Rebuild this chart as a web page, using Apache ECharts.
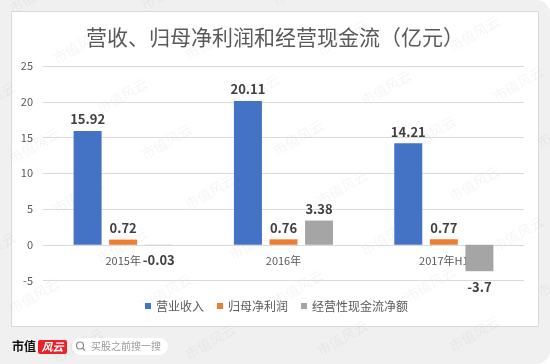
<!DOCTYPE html>
<html><head><meta charset="utf-8">
<script src="https://cdn.jsdelivr.net/npm/echarts@6/dist/echarts.min.js"></script>
<style>html,body{margin:0;padding:0;background:#fff}#c{width:550px;height:364px}</style>
</head><body><div id="c"></div>
<script>
const titleText = '营收、归母净利润和经营现金流（亿元）';
const categories = ['2015年', '2016年', '2017年H1'];
const seriesNames = ['营业收入', '归母净利润', '经营性现金流净额'];
const revenue = [15.92, 20.11, 14.21];
const netProfit = [0.72, 0.76, 0.77];
const operatingCashFlow = [-0.03, 3.38, -3.7];
const colors = ['#4472C4', '#ED7D31', '#A5A5A5'];
const yMin = -5, yMax = 25, yStep = 5;

const CJK = "'Noto Sans CJK SC', 'Noto Sans', sans-serif";
const gridTop = 66, gridBottom = 83.5, chartH = 364;
const gridH = chartH - gridTop - gridBottom;
const zeroOffset = -(gridH * (0 - yMin) / (yMax - yMin));

function toData(arr) {
  return arr.map(v => ({ value: v, label: { position: v < 0 ? 'bottom' : 'top', distance: v < 0 ? 9 : 5 } }));
}
function mkSeries(name, arr, color) {
  return {
    name: name, type: 'bar', data: toData(arr), barWidth: 28, barGap: '27%',
    itemStyle: { color: color },
    label: { show: true, color: '#404040', fontSize: 13, fontWeight: 'bold', fontFamily: CJK }
  };
}

const graphics = [];
graphics.push({ type: 'rect', z: -20, silent: true, shape: { x: 0, y: 0, width: 550, height: 364, r: [0, 14, 14, 0] }, style: { fill: '#f0f0f0' } });
graphics.push({ type: 'rect', z: -15, silent: true, shape: { x: 11.5, y: 11.5, width: 527, height: 315 }, style: { fill: '#ffffff', stroke: '#d9d9d9', lineWidth: 1 } });
for (let j = -1; j < 8; j++) {
  for (let i = -1; i < 6; i++) {
    const x = 10 + i * 132 + (j % 3) * 44;
    const y = 10 + j * 50 - i * 4;
    graphics.push({ type: 'text', z: -10, silent: true, x: x, y: y, rotation: Math.PI / 6,
      style: { text: '市值风云', fill: 'rgba(0,0,0,0.045)', font: "14px 'Noto Sans CJK SC'", textAlign: 'left', textVerticalAlign: 'middle' } });
  }
}
graphics.push({ type: 'text', z: 5, silent: true, x: 12, y: 346, style: { text: '市值', fill: '#111', font: "bold 12px 'Noto Sans CJK SC'", textVerticalAlign: 'middle' } });
graphics.push({ type: 'rect', z: 5, silent: true, shape: { x: 38, y: 340, width: 29, height: 14, r: 2 }, style: { fill: '#e8232b' } });
graphics.push({ type: 'text', z: 6, silent: true, x: 52.5, y: 347, style: { text: '风云', fill: '#fff', font: "italic bold 11px 'Noto Sans CJK SC'", textAlign: 'center', textVerticalAlign: 'middle' } });
graphics.push({ type: 'rect', z: 5, silent: true, shape: { x: 72, y: 338, width: 96, height: 17, r: 8.5 }, style: { fill: '#ffffff' } });
graphics.push({ type: 'circle', z: 6, silent: true, shape: { cx: 80, cy: 345.5, r: 3.5 }, style: { fill: 'none', stroke: '#888', lineWidth: 1.2 } });
graphics.push({ type: 'line', z: 6, silent: true, shape: { x1: 82.6, y1: 348.1, x2: 85, y2: 350.5 }, style: { stroke: '#888', lineWidth: 1.3 } });
graphics.push({ type: 'text', z: 6, silent: true, x: 91, y: 346.5, style: { text: '买股之前搜一搜', fill: '#9a9a9a', font: "10px 'Noto Sans CJK SC'", textVerticalAlign: 'middle' } });

const chart = echarts.init(document.getElementById('c'), null, { renderer: 'canvas' });
chart.setOption({
  backgroundColor: '#ffffff',
  animation: false,
  color: colors,
  title: {
    text: titleText, left: 'center', top: 22,
    textStyle: { color: '#595959', fontSize: 21, fontWeight: 'normal', fontFamily: CJK }
  },
  legend: {
    data: seriesNames, left: 145, top: 300, padding: 0,
    itemWidth: 6, itemHeight: 6, itemGap: 13, icon: 'rect',
    textStyle: { color: '#595959', fontSize: 12, fontFamily: CJK }
  },
  grid: { left: 43, right: 26, top: gridTop, bottom: gridBottom },
  xAxis: {
    type: 'category', data: categories, offset: zeroOffset,
    axisLine: { show: true, onZero: false, lineStyle: { color: '#d9d9d9' } },
    axisTick: { show: false },
    axisLabel: { color: '#595959', fontSize: 11, fontFamily: CJK, margin: 11 }
  },
  yAxis: {
    type: 'value', min: yMin, max: yMax, interval: yStep,
    axisLine: { show: false }, axisTick: { show: false },
    splitLine: { lineStyle: { color: '#d9d9d9' } },
    axisLabel: { color: '#595959', fontSize: 11, fontFamily: CJK, margin: 10 }
  },
  graphic: graphics,
  series: [
    mkSeries(seriesNames[0], revenue, colors[0]),
    mkSeries(seriesNames[1], netProfit, colors[1]),
    mkSeries(seriesNames[2], operatingCashFlow, colors[2])
  ]
});
</script></body></html>
